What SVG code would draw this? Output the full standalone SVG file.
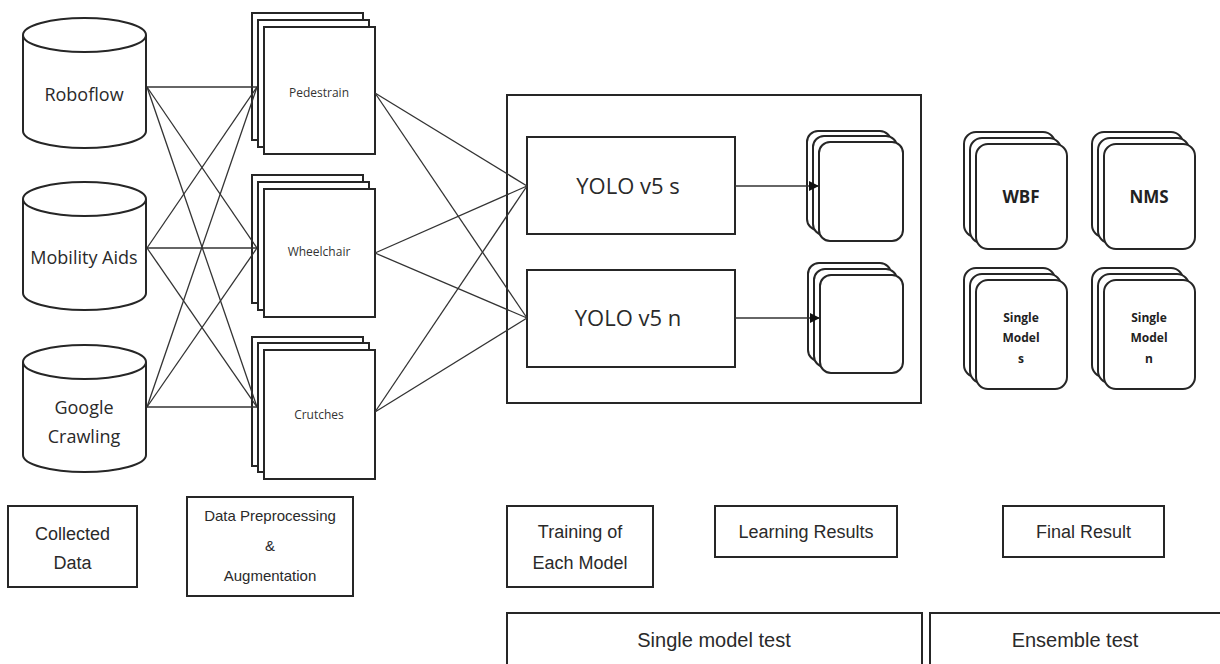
<svg xmlns="http://www.w3.org/2000/svg" width="1220" height="664" viewBox="0 0 1220 664">
<style>
.shape{fill:#fff;stroke:#262626;stroke-width:2}
.line{fill:none;stroke:#333;stroke-width:1.3}
.cyl{font-family:"Open Sans","Noto Sans",sans-serif;font-size:18px;fill:#2a2a2a;text-anchor:middle}
.ds{font-family:"Open Sans","Noto Sans",sans-serif;font-size:12px;fill:#333;text-anchor:middle}
.yolo{font-family:"Open Sans","Noto Sans",sans-serif;font-size:22px;fill:#2a2a2a;text-anchor:middle}
.fin{font-family:"Open Sans","Noto Sans",sans-serif;font-weight:bold;fill:#222;text-anchor:middle}
.lab{font-family:"Liberation Sans",Arial,sans-serif;fill:#2a2a2a;text-anchor:middle}
.l18{font-size:18px}
.l15{font-size:15px}
.l20{font-size:20px}
</style>
<defs>
<marker id="arr" viewBox="0 0 10 10" refX="10" refY="5" markerWidth="10" markerHeight="10" markerUnits="userSpaceOnUse" orient="auto">
<path d="M0 0 L10 5 L0 10 Z" fill="#111"/>
</marker>
</defs>
<rect width="1220" height="664" fill="#fff"/>

<g id="roboflow">
<path class="shape" d="M23 35 V131 A61.5 17 0 0 0 146 131 V35"/>
<ellipse class="shape" cx="84.5" cy="35" rx="61.5" ry="17"/>
<text class="cyl" x="84" y="101">Roboflow</text>
</g>
<g id="mobility">
<path class="shape" d="M23 199 V293 A61.5 17 0 0 0 146 293 V199"/>
<ellipse class="shape" cx="84.5" cy="199" rx="61.5" ry="17"/>
<text class="cyl" x="84" y="264">Mobility Aids</text>
</g>
<g id="google">
<path class="shape" d="M23 362 V455 A61.5 17 0 0 0 146 455 V362"/>
<ellipse class="shape" cx="84.5" cy="362" rx="61.5" ry="17"/>
<text class="cyl" x="84" y="414">Google</text>
<text class="cyl" x="84" y="443">Crawling</text>
</g>

<g id="pedestrain">
<rect class="shape" x="252" y="13" width="111" height="127"/>
<rect class="shape" x="258" y="20" width="111" height="127"/>
<rect class="shape" x="264" y="27" width="111" height="127"/>
<text class="ds" x="319" y="97">Pedestrain</text>
</g>
<g id="wheelchair">
<rect class="shape" x="252" y="175" width="111" height="128"/>
<rect class="shape" x="258" y="182" width="111" height="128"/>
<rect class="shape" x="264" y="189" width="111" height="128"/>
<text class="ds" x="319" y="256">Wheelchair</text>
</g>
<g id="crutches">
<rect class="shape" x="252" y="337" width="111" height="129"/>
<rect class="shape" x="258" y="343" width="111" height="129"/>
<rect class="shape" x="264" y="350" width="111" height="129"/>
<text class="ds" x="319" y="419">Crutches</text>
</g>

<g id="training-box">
<rect class="shape" x="507" y="95" width="414" height="308"/>
</g>
<g id="yolo-s">
<rect class="shape" x="527" y="137" width="208" height="97"/>
<text class="yolo" x="628" y="194">YOLO v5 s</text>
</g>
<g id="yolo-n">
<rect class="shape" x="527" y="270" width="208" height="97"/>
<text class="yolo" x="628" y="326">YOLO v5 n</text>
</g>
<g id="result-s">
<rect class="shape" x="807" y="131" width="84" height="99" rx="11"/>
<rect class="shape" x="813" y="136" width="84" height="99" rx="11"/>
<rect class="shape" x="819" y="142" width="84" height="99" rx="11"/>
</g>
<g id="result-n">
<rect class="shape" x="808" y="263" width="83" height="98" rx="11"/>
<rect class="shape" x="814" y="269" width="83" height="98" rx="11"/>
<rect class="shape" x="820" y="275" width="83" height="98" rx="11"/>
</g>

<g id="wbf">
<rect class="shape" x="964" y="132" width="91" height="105" rx="12"/>
<rect class="shape" x="970" y="138" width="91" height="105" rx="12"/>
<rect class="shape" x="976" y="144" width="91" height="105" rx="12"/>
<text class="fin" x="1021" y="203" font-size="17">WBF</text>
</g>
<g id="nms">
<rect class="shape" x="1092" y="132" width="91" height="105" rx="12"/>
<rect class="shape" x="1098" y="138" width="91" height="105" rx="12"/>
<rect class="shape" x="1104" y="144" width="91" height="105" rx="12"/>
<text class="fin" x="1149" y="203" font-size="17">NMS</text>
</g>
<g id="single-s">
<rect class="shape" x="964" y="268" width="91" height="109" rx="12"/>
<rect class="shape" x="970" y="274" width="91" height="109" rx="12"/>
<rect class="shape" x="976" y="280" width="91" height="109" rx="12"/>
<text class="fin" x="1021" y="322" font-size="12">Single</text>
<text class="fin" x="1021" y="342" font-size="12">Model</text>
<text class="fin" x="1021" y="363" font-size="12">s</text>
</g>
<g id="single-n">
<rect class="shape" x="1092" y="268" width="91" height="109" rx="12"/>
<rect class="shape" x="1098" y="274" width="91" height="109" rx="12"/>
<rect class="shape" x="1104" y="280" width="91" height="109" rx="12"/>
<text class="fin" x="1149" y="322" font-size="12">Single</text>
<text class="fin" x="1149" y="342" font-size="12">Model</text>
<text class="fin" x="1149" y="363" font-size="12">n</text>
</g>

<g id="label-collected">
<rect class="shape" x="8" y="506" width="129" height="81"/>
<text class="lab l18" x="72.5" y="540">Collected</text>
<text class="lab l18" x="72.5" y="569">Data</text>
</g>
<g id="label-preprocessing">
<rect class="shape" x="187" y="497" width="166" height="99"/>
<text class="lab l15" x="270" y="521">Data Preprocessing</text>
<text class="lab l15" x="270" y="551">&amp;</text>
<text class="lab l15" x="270" y="581">Augmentation</text>
</g>
<g id="label-training">
<rect class="shape" x="507" y="506" width="146" height="81"/>
<text class="lab l18" x="580" y="538">Training of</text>
<text class="lab l18" x="580" y="569">Each Model</text>
</g>
<g id="label-learning">
<rect class="shape" x="715" y="506" width="182" height="51"/>
<text class="lab l18" x="806" y="538">Learning Results</text>
</g>
<g id="label-final">
<rect class="shape" x="1003" y="506" width="161" height="51"/>
<text class="lab l18" x="1083.5" y="538">Final Result</text>
</g>
<g id="label-single-test">
<rect class="shape" x="507" y="613" width="415" height="60"/>
<text class="lab l20" x="714" y="647">Single model test</text>
</g>
<g id="label-ensemble-test">
<rect class="shape" x="930" y="613" width="300" height="60"/>
<text class="lab l20" x="1075" y="647">Ensemble test</text>
</g>

<g id="connectors">
<line class="line" x1="147" y1="87" x2="257" y2="87"/>
<line class="line" x1="147" y1="87" x2="257" y2="248"/>
<line class="line" x1="147" y1="87" x2="257" y2="407"/>
<line class="line" x1="147" y1="248" x2="257" y2="87"/>
<line class="line" x1="147" y1="248" x2="257" y2="248"/>
<line class="line" x1="147" y1="248" x2="257" y2="407"/>
<line class="line" x1="147" y1="407" x2="257" y2="87"/>
<line class="line" x1="147" y1="407" x2="257" y2="248"/>
<line class="line" x1="147" y1="407" x2="257" y2="407"/>
<line class="line" x1="375" y1="93" x2="527" y2="186"/>
<line class="line" x1="375" y1="93" x2="527" y2="318"/>
<line class="line" x1="375" y1="253" x2="527" y2="186"/>
<line class="line" x1="375" y1="253" x2="527" y2="318"/>
<line class="line" x1="375" y1="412" x2="527" y2="186"/>
<line class="line" x1="375" y1="412" x2="527" y2="318"/>
<line class="line" x1="735" y1="186" x2="819" y2="186" marker-end="url(#arr)"/>
<line class="line" x1="735" y1="318" x2="820" y2="318" marker-end="url(#arr)"/>
</g>
</svg>
